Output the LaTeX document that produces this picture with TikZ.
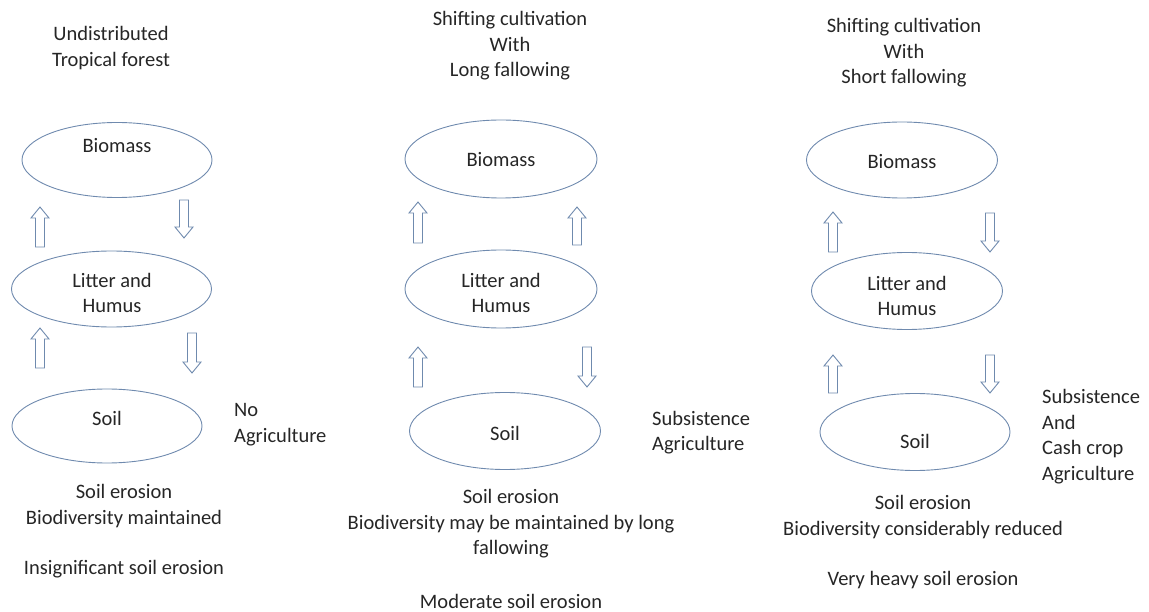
\documentclass[tikz,border=0pt]{standalone}
\usepackage{fontspec}
\setmainfont{Carlito}
\usetikzlibrary{shapes.geometric}
\definecolor{edgeblue}{HTML}{6F8AAE}
\definecolor{ink}{HTML}{262626}
\newcommand\upblk[3]{\draw[blk] (#1-4.5,#2) -- (#1-4.5,#3+11) -- (#1-9,#3+11) -- (#1,#3) -- (#1+9,#3+11) -- (#1+4.5,#3+11) -- (#1+4.5,#2) -- cycle;}
\newcommand\downblk[3]{\draw[blk] (#1-4.5,#2) -- (#1-4.5,#3-11) -- (#1-9,#3-11) -- (#1,#3) -- (#1+9,#3-11) -- (#1+4.5,#3-11) -- (#1+4.5,#2) -- cycle;}
\begin{document}
\begin{tikzpicture}[x=1pt,y=-1pt,
  every node/.style={text=ink, font=\fontsize{20.5}{25.5}\selectfont, inner sep=0pt},
  pool/.style={draw=edgeblue, line width=0.9pt, ellipse},
  blk/.style={draw=edgeblue, line width=0.9pt, fill=white},
  ctext/.style={align=center},
  ltext/.style={align=left, anchor=west}]
\useasboundingbox (0,0) rectangle (1149,612);
% ---------- panel 1 ----------
\node[ctext] (t1) at (111,48) {Undistributed\\Tropical forest};
\node[pool, minimum width=190pt, minimum height=75pt] (b1) at (117,160) {};
\node (b1t) at (117,146) {Biomass};
\node[pool, minimum width=200pt, minimum height=76pt] (l1) at (111.5,289) {};
\node[ctext] (l1t) at (112,293) {Litter and\\Humus};
\node[pool, minimum width=190pt, minimum height=74pt] (s1) at (107,426) {};
\node (s1t) at (107,418) {Soil};
\node[ltext] (a1) at (234,424.5) {No\\Agriculture};
\node[ctext] (e1) at (124,506) {Soil erosion\\Biodiversity maintained};
\node (i1) at (124,569) {Insignificant soil erosion};
\upblk{40}{247}{207}
\downblk{184}{200}{238}
\upblk{40}{368}{328}
\downblk{192}{333}{373}
% ---------- panel 2 ----------
\node[ctext] (t2) at (510,46) {Shifting cultivation\\With\\Long fallowing};
\node[pool, minimum width=192pt, minimum height=78pt] (b2) at (501,159) {};
\node (b2t) at (501,160) {Biomass};
\node[pool, minimum width=192pt, minimum height=78pt] (l2) at (501,289) {};
\node[ctext] (l2t) at (501,293) {Litter and\\Humus};
\node[pool, minimum width=191pt, minimum height=77pt] (s2) at (505,431) {};
\node (s2t) at (505,433) {Soil};
\node[ltext] (a2) at (652,432.5) {Subsistence\\Agriculture};
\node[ctext] (e2) at (511,524) {Soil erosion\\Biodiversity may be maintained by long\\fallowing};
\node (m2) at (511,601) {Moderate soil erosion};
\upblk{418}{243}{202}
\upblk{577}{245}{207}
\upblk{418}{387}{347}
\downblk{587}{347}{387}
% ---------- panel 3 ----------
\node[ctext] (t3) at (904,53) {Shifting cultivation\\With\\Short fallowing};
\node[pool, minimum width=191pt, minimum height=76pt] (b3) at (902,160) {};
\node (b3t) at (902,162) {Biomass};
\node[pool, minimum width=191pt, minimum height=77pt] (l3) at (907,291) {};
\node[ctext] (l3t) at (907,296) {Litter and\\Humus};
\node[pool, minimum width=190pt, minimum height=77pt] (s3) at (915,432) {};
\node (s3t) at (915,441) {Soil};
\node[ltext] (a3) at (1042,436.5) {Subsistence\\And\\Cash crop\\Agriculture};
\node[ctext] (e3) at (923,517) {Soil erosion\\Biodiversity considerably reduced};
\node (v3) at (923,580) {Very heavy soil erosion};
\upblk{833}{252}{212}
\downblk{990}{213}{252}
\upblk{833}{393}{355}
\downblk{990}{355}{393}
\end{tikzpicture}
\end{document}
